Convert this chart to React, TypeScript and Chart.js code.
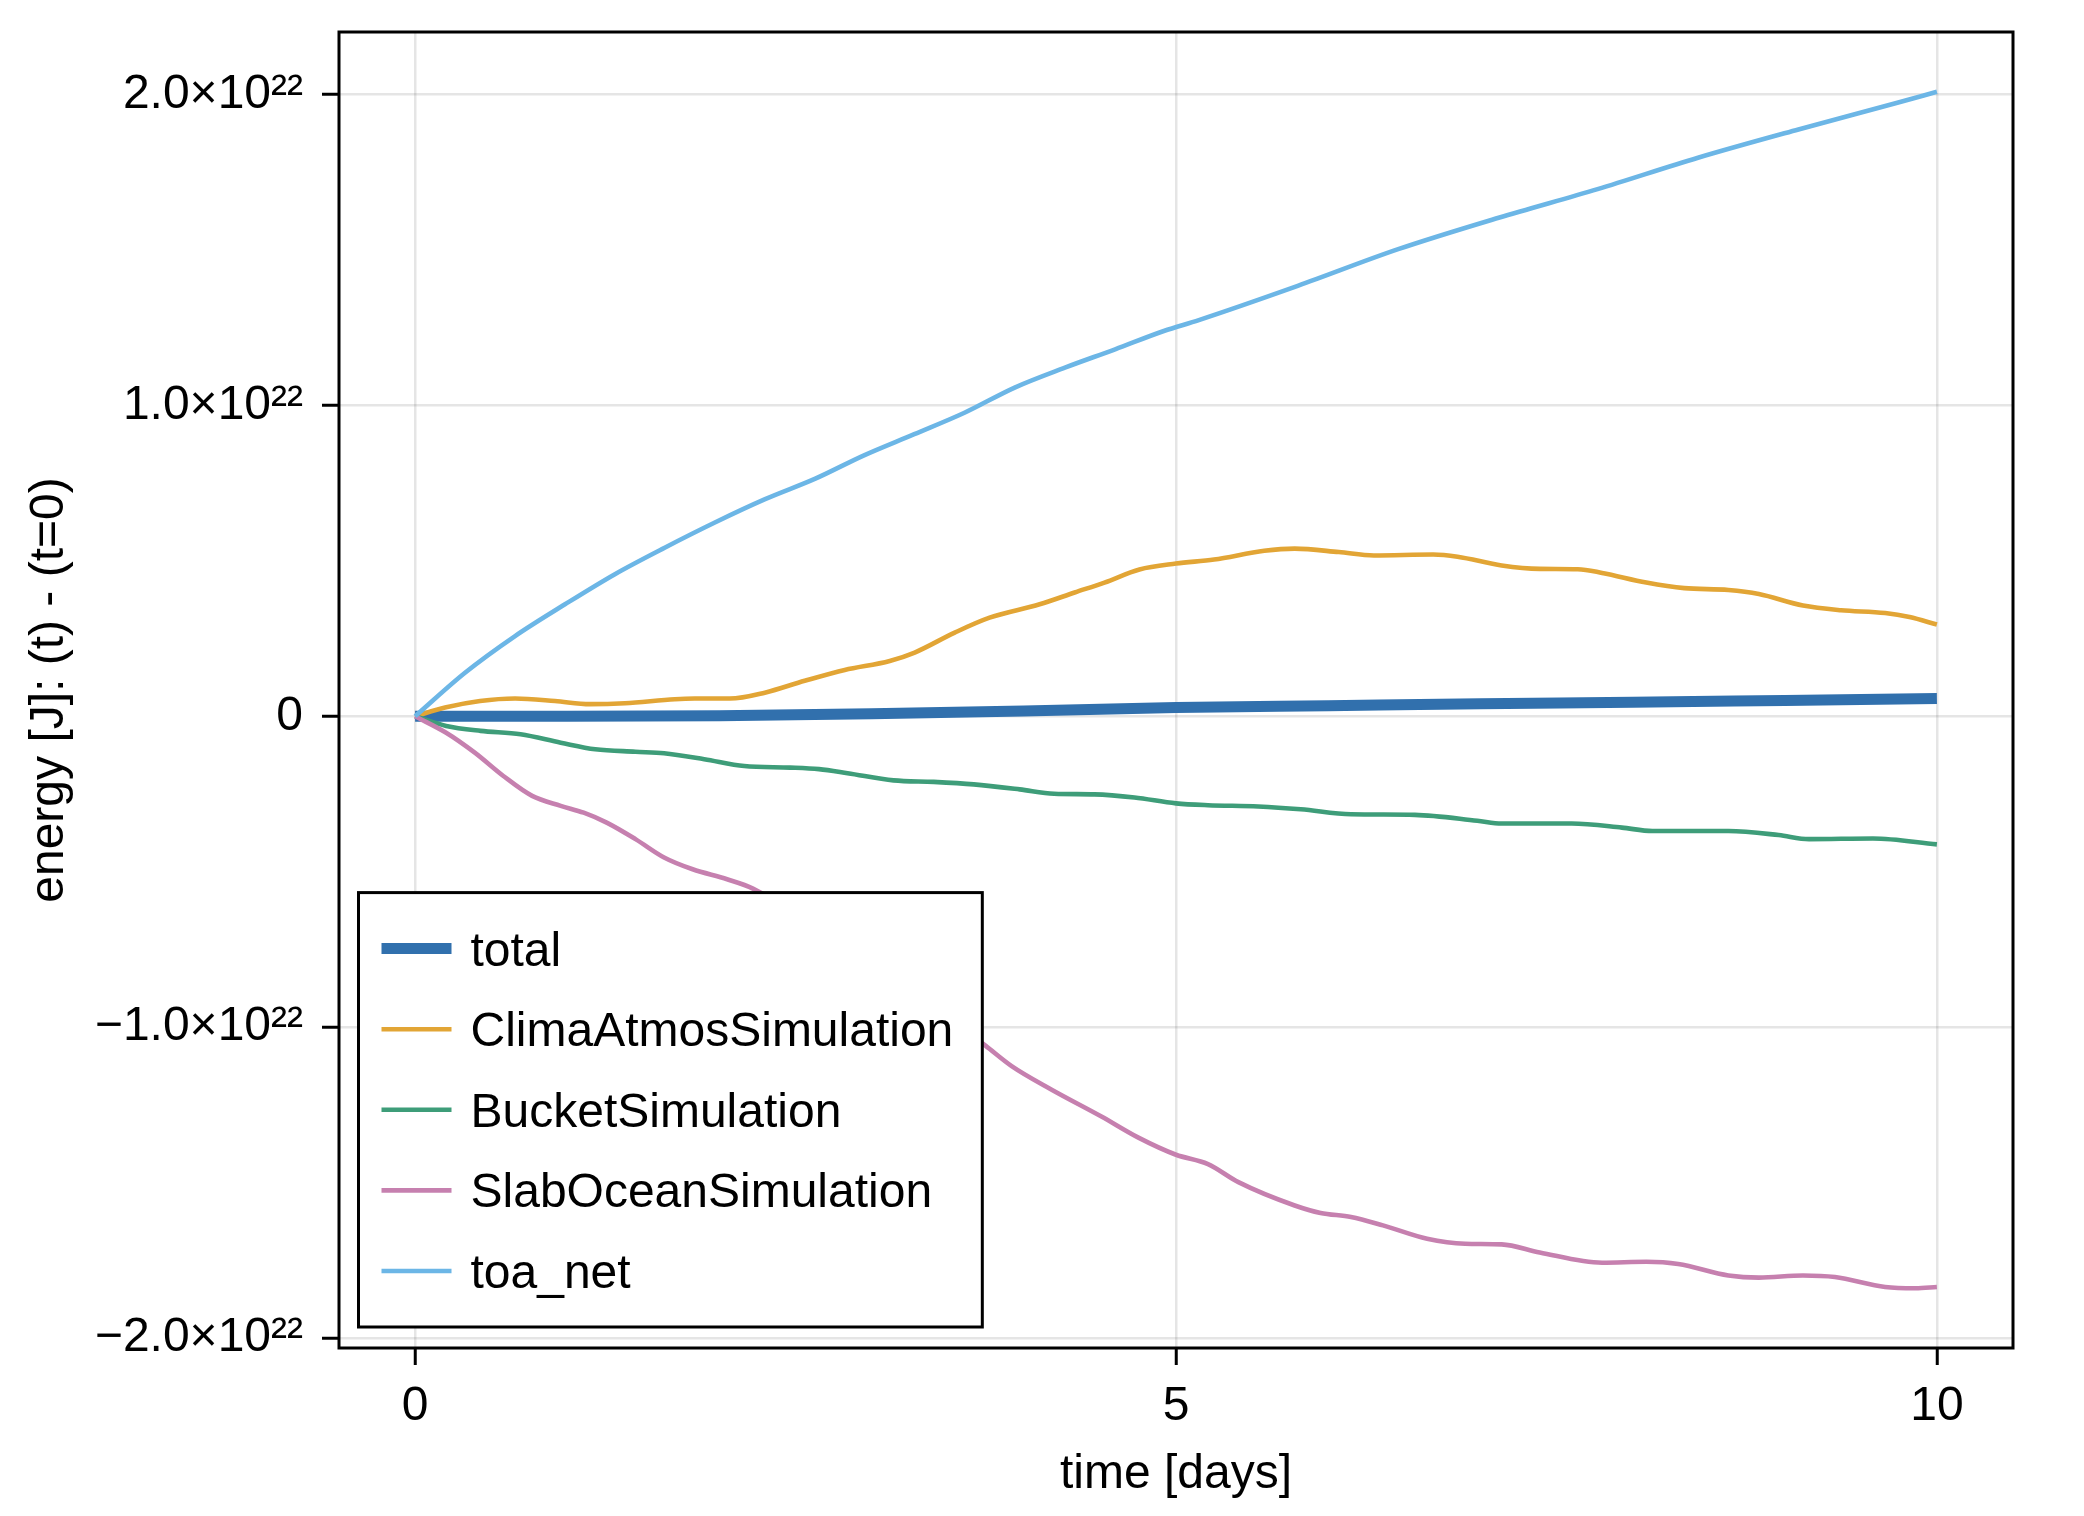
import React, { useEffect, useRef } from "react";
import { Chart, registerables } from "chart.js";

Chart.register(...registerables);

// Energy values are in units of 1e22 J, time in days.
const seriesLabels = ["total", "ClimaAtmosSimulation", "BucketSimulation", "SlabOceanSimulation", "toa_net"];
const seriesColors = ["#3170ad", "#e2a535", "#3e9d79", "#c680af", "#6cb6e6"];
const seriesWidths = [11, 4.6, 4.6, 4.6, 4.6];

const totalDays = [0, 1, 2, 3, 4, 5, 6, 7, 8, 9, 10];
const totalEnergy = [0, 0.0, 0.002, 0.008, 0.017, 0.028, 0.034, 0.04, 0.045, 0.051, 0.057];

const atmosDays = [0, 0.197, 0.427, 0.657, 0.919, 1.149, 1.379, 1.707, 1.838, 2.068, 2.298, 2.56, 2.823, 3.119, 3.283, 3.546, 3.775, 4.104, 4.334, 4.53, 4.76, 5.0, 5.25, 5.58, 5.78, 6.07, 6.3, 6.69, 6.85, 7.14, 7.39, 7.64, 7.8, 8.09, 8.34, 8.63, 8.83, 9.12, 9.37, 9.66, 9.82, 10];
const atmosEnergy = [0, 0.028, 0.049, 0.057, 0.049, 0.039, 0.042, 0.055, 0.057, 0.057, 0.076, 0.114, 0.149, 0.178, 0.205, 0.269, 0.317, 0.36, 0.398, 0.43, 0.472, 0.491, 0.504, 0.532, 0.539, 0.528, 0.517, 0.52, 0.513, 0.485, 0.474, 0.473, 0.461, 0.43, 0.412, 0.406, 0.393, 0.356, 0.341, 0.332, 0.319, 0.295];

const bucketDays = [0, 0.204, 0.43, 0.693, 0.957, 1.184, 1.448, 1.636, 1.9, 2.163, 2.465, 2.654, 2.842, 3.144, 3.408, 3.671, 3.973, 4.199, 4.463, 4.727, 5.0, 5.21, 5.54, 5.82, 6.15, 6.57, 6.98, 7.14, 7.6, 7.93, 8.13, 8.63, 8.96, 9.16, 9.58, 10];
const bucketEnergy = [0, -0.031, -0.047, -0.058, -0.085, -0.106, -0.114, -0.119, -0.138, -0.16, -0.165, -0.17, -0.183, -0.206, -0.211, -0.219, -0.235, -0.249, -0.251, -0.261, -0.28, -0.286, -0.29, -0.299, -0.315, -0.317, -0.336, -0.345, -0.345, -0.358, -0.369, -0.369, -0.382, -0.395, -0.393, -0.412];

const slabDays = [0, 0.204, 0.392, 0.58, 0.769, 0.957, 1.108, 1.259, 1.448, 1.636, 1.824, 2.05, 2.22, 2.6, 3.0, 3.4, 3.75, 3.92, 4.18, 4.51, 4.753, 5.0, 5.21, 5.41, 5.78, 5.95, 6.15, 6.36, 6.65, 6.9, 7.14, 7.39, 7.8, 8.09, 8.3, 8.63, 8.83, 9.12, 9.33, 9.66, 9.86, 10];
const slabEnergy = [0, -0.053, -0.117, -0.192, -0.256, -0.288, -0.31, -0.342, -0.395, -0.454, -0.492, -0.524, -0.554, -0.67, -0.8, -0.93, -1.06, -1.125, -1.2, -1.287, -1.355, -1.41, -1.44, -1.498, -1.573, -1.597, -1.61, -1.637, -1.68, -1.696, -1.698, -1.724, -1.757, -1.754, -1.761, -1.798, -1.805, -1.798, -1.803, -1.835, -1.839, -1.835];

const toaDays = [0, 0.328, 0.657, 0.985, 1.313, 1.64, 1.97, 2.3, 2.63, 2.95, 3.28, 3.61, 3.94, 4.27, 4.6, 4.92, 5.15, 5.8, 6.46, 7.12, 7.77, 8.43, 9.09, 9.74, 10];
const toaEnergy = [0, 0.14, 0.258, 0.36, 0.457, 0.542, 0.623, 0.698, 0.764, 0.839, 0.907, 0.976, 1.057, 1.121, 1.18, 1.239, 1.274, 1.384, 1.502, 1.603, 1.695, 1.796, 1.887, 1.973, 2.008];

const xTickValues = [0, 5, 10];
const xTickLabels = ["0", "5", "10"];
const yTickValues = [-2, -1, 0, 1, 2];
const yTickLabels = ["\u22122.0\u00d710\u00b2\u00b2", "\u22121.0\u00d710\u00b2\u00b2", "0", "1.0\u00d710\u00b2\u00b2", "2.0\u00d710\u00b2\u00b2"];

const xTitle = "time [days]";
const yTitle = "energy [J]: (t) - (t=0)";

const FONT = "'Liberation Sans', Arial, Helvetica, sans-serif";

const seriesDays = [totalDays, atmosDays, bucketDays, slabDays, toaDays];
const seriesValues = [totalEnergy, atmosEnergy, bucketEnergy, slabEnergy, toaEnergy];

const frameAndLegend = {
  id: "frameAndLegend",
  afterDatasetsDraw(chart: any) {
    const { ctx, chartArea } = chart;
    ctx.save();
    ctx.strokeStyle = "#000";
    ctx.lineWidth = 3;
    ctx.strokeRect(chartArea.left, chartArea.top, chartArea.right - chartArea.left, chartArea.bottom - chartArea.top);

    ctx.font = `48px ${FONT}`;
    const rowH = 80.6;
    const padV = 56;
    const lineStart = 23;
    const lineEnd = 93;
    const textStart = 112;
    const padRight = 29;
    let maxW = 0;
    chart.data.datasets.forEach((ds: any) => {
      maxW = Math.max(maxW, ctx.measureText(ds.label).width);
    });
    const n = chart.data.datasets.length;
    const w = textStart + maxW + padRight;
    const h = padV * 2 + rowH * (n - 1);
    const x0 = chartArea.left + 19.5;
    const y0 = chartArea.bottom - 21 - h;
    ctx.fillStyle = "#fff";
    ctx.fillRect(x0, y0, w, h);
    ctx.strokeStyle = "#000";
    ctx.lineWidth = 3;
    ctx.strokeRect(x0, y0, w, h);
    chart.data.datasets.forEach((ds: any, i: number) => {
      const cy = y0 + padV + i * rowH;
      ctx.strokeStyle = ds.borderColor;
      ctx.lineWidth = ds.borderWidth;
      ctx.lineCap = "butt";
      ctx.beginPath();
      ctx.moveTo(x0 + lineStart, cy);
      ctx.lineTo(x0 + lineEnd, cy);
      ctx.stroke();
      ctx.fillStyle = "#000";
      ctx.textBaseline = "alphabetic";
      ctx.textAlign = "left";
      ctx.fillText(ds.label, x0 + textStart, cy + 17);
    });
    ctx.restore();
  },
};

export default function App() {
  const canvasRef = useRef<HTMLCanvasElement | null>(null);

  useEffect(() => {
    const canvas = canvasRef.current;
    if (!canvas) return;

    const allX = seriesDays.flat();
    const allY = seriesValues.flat();
    const xMinD = Math.min(...allX), xMaxD = Math.max(...allX);
    const yMinD = Math.min(...allY), yMaxD = Math.max(...allY);
    const xPad = (xMaxD - xMinD) * 0.05;
    const yPad = (yMaxD - yMinD) * 0.05;

    const datasets = seriesLabels.map((label, i) => ({
      label,
      data: seriesDays[i].map((d, j) => ({ x: d, y: seriesValues[i][j] })),
      borderColor: seriesColors[i],
      backgroundColor: seriesColors[i],
      borderWidth: seriesWidths[i],
      pointRadius: 0,
      pointHoverRadius: 0,
      fill: false,
      cubicInterpolationMode: "monotone" as const,
      order: seriesLabels.length - i,
    }));

    const tickFont = { family: FONT, size: 48, lineHeight: 1.2 };
    const titleFont = { family: FONT, size: 48, lineHeight: 1 };

    const chart = new Chart(canvas, {
      type: "line",
      data: { datasets },
      plugins: [frameAndLegend],
      options: {
        animation: false,
        responsive: false,
        maintainAspectRatio: false,
        events: [],
        layout: { padding: { top: 32, right: 71, left: 0, bottom: 0 } },
        plugins: {
          legend: { display: false },
          tooltip: { enabled: false },
        },
        scales: {
          x: {
            type: "linear",
            min: xMinD - xPad,
            max: xMaxD + xPad,
            afterBuildTicks: (scale: any) => {
              scale.ticks = xTickValues.map((v) => ({ value: v }));
            },
            afterFit: (scale: any) => {
              scale.height = 168;
              scale.paddingLeft = 0;
              scale.paddingRight = 0;
            },
            grid: {
              color: "rgba(0,0,0,0.1)",
              lineWidth: 2.5,
              drawTicks: true,
              tickLength: 17,
              tickColor: "#000",
              tickWidth: 3,
            },
            border: { display: false },
            ticks: {
              autoSkip: false,
              maxRotation: 0,
              padding: 13,
              color: "#000",
              font: tickFont,
              callback: (value: any) => {
                const k = xTickValues.indexOf(Number(value));
                return k >= 0 ? xTickLabels[k] : "";
              },
            },
            title: {
              display: true,
              text: xTitle,
              color: "#000",
              font: titleFont,
              padding: { top: 0, bottom: 17 },
            },
          },
          y: {
            type: "linear",
            min: yMinD - yPad,
            max: yMaxD + yPad,
            afterBuildTicks: (scale: any) => {
              scale.ticks = yTickValues.map((v) => ({ value: v }));
            },
            afterFit: (scale: any) => {
              scale.width = 339;
              scale.paddingTop = 0;
              scale.paddingBottom = 0;
            },
            grid: {
              color: "rgba(0,0,0,0.1)",
              lineWidth: 2.5,
              drawTicks: true,
              tickLength: 17,
              tickColor: "#000",
              tickWidth: 3,
            },
            border: { display: false },
            ticks: {
              autoSkip: false,
              padding: 19,
              color: "#000",
              font: tickFont,
              callback: (value: any) => {
                const k = yTickValues.indexOf(Number(value));
                return k >= 0 ? yTickLabels[k] : "";
              },
            },
            title: {
              display: true,
              text: yTitle,
              color: "#000",
              font: titleFont,
              padding: { top: 26, bottom: 0 },
            },
          },
        },
      },
    });

    return () => {
      chart.destroy();
    };
  }, []);

  return (
    <div style={{ position: "absolute", left: 0, top: 0, width: 2084, height: 1516, background: "#fff" }}>
      <canvas ref={canvasRef} width={2084} height={1516} style={{ display: "block", width: 2084, height: 1516 }} />
    </div>
  );
}
